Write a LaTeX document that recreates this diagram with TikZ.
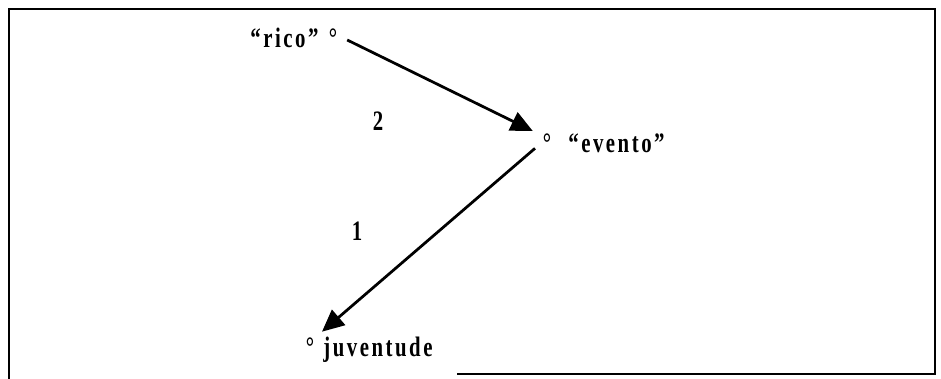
\documentclass[tikz,border=0pt]{standalone}
\usepackage{fontspec}
\setmainfont{Liberation Serif}[FakeStretch=0.74, LetterSpace=9]
\usetikzlibrary{arrows.meta}

\begin{document}
\begin{tikzpicture}[x=0.02cm, y=-0.02cm, font=\fontsize{16}{19}\selectfont\bfseries,
    txt/.style={anchor=base west, inner sep=0pt},
    num/.style={anchor=base, inner sep=0pt},
    pt/.style={circle, inner sep=0pt, text height=17pt, text depth=0pt},
    link/.style={-{Triangle[length=0.44cm, width=0.4cm]}, line width=0.055cm}]
    \useasboundingbox (0,0) rectangle (941,379);
    % Rahmen
    \draw[line width=0.055cm] (9,379) -- (9,9) -- (935,9) -- (935,374) -- (457,374);

    % Punkte
    \node[pt] (rico) at (333,33) {°};
    \node[pt] (evento) at (547,138) {°};
    \node[pt] (juventude) at (310,342) {°};

    % Texte
    \node[txt] (ricotxt) at (250,47) {“rico”};
    \node[txt] (eventotxt) at (568,152) {“evento”};
    \node[txt] (juventudetxt) at (323,356) {juventude};
    \node[num] (n2) at (378,130) {2};
    \node[num] (n1) at (357,240) {1};

    % Pfeile
    \draw[link] (rico) -- (evento);
    \draw[link] (evento) -- (juventude);
\end{tikzpicture}
\end{document}
